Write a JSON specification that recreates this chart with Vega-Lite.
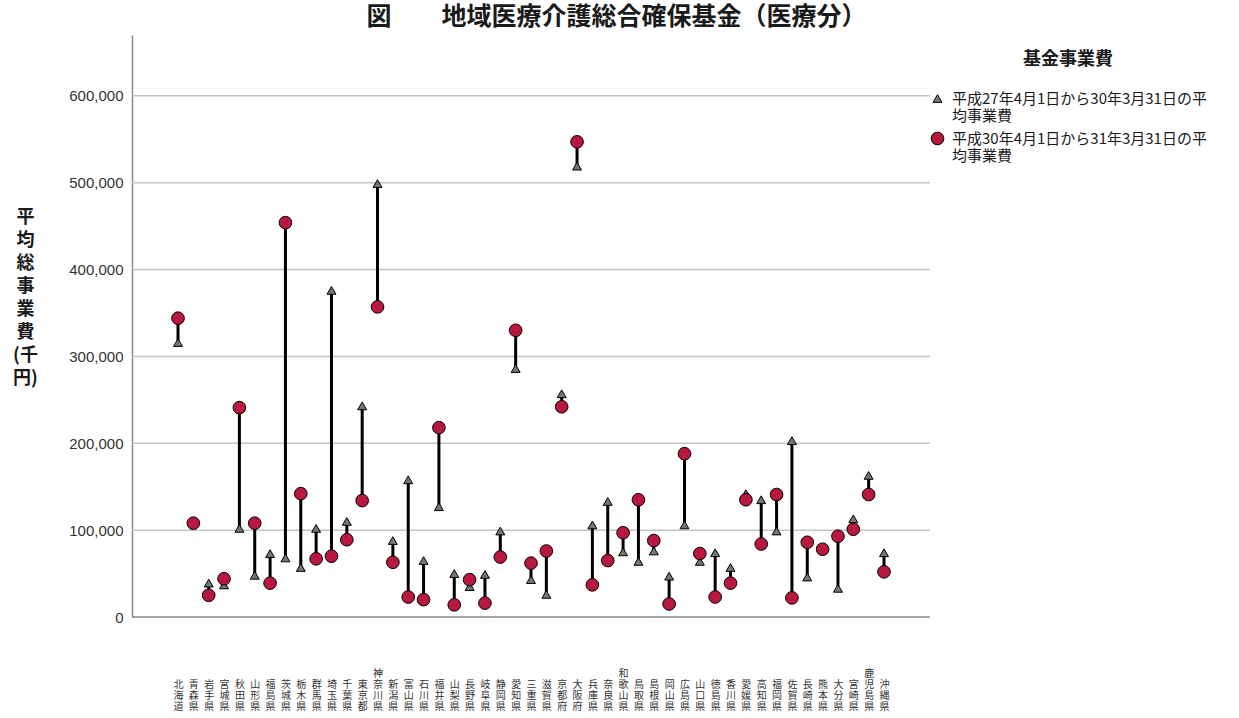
{
  "$schema": "https://vega.github.io/schema/vega-lite/v6.json",
  "autosize": "none",
  "width": 798,
  "height": 582,
  "padding": {"left": 132, "top": 35, "right": 309, "bottom": 101},
  "background": "white",
  "title": {
    "text": "図　　地域医療介護総合確保基金（医療分）",
    "anchor": "start",
    "dx": 354,
    "offset": 5,
    "font": "Noto Sans CJK JP",
    "fontSize": 25,
    "fontWeight": "bold",
    "color": "#1a1a1a"
  },
  "datasets": {
    "grid": [
      {"g": 0}, {"g": 100000}, {"g": 200000}, {"g": 300000}, {"g": 400000}, {"g": 500000}, {"g": 600000}
    ],
    "fund": [
      {"pref": "北海道", "h27": 316000, "h30": 344000},
      {"pref": "青森県", "h27": 108000, "h30": 108000},
      {"pref": "岩手県", "h27": 39000, "h30": 25000},
      {"pref": "宮城県", "h27": 37000, "h30": 44000},
      {"pref": "秋田県", "h27": 102000, "h30": 241000},
      {"pref": "山形県", "h27": 48000, "h30": 108000},
      {"pref": "福島県", "h27": 73000, "h30": 39000},
      {"pref": "茨城県", "h27": 68000, "h30": 454000},
      {"pref": "栃木県", "h27": 57000, "h30": 142000},
      {"pref": "群馬県", "h27": 102000, "h30": 67000},
      {"pref": "埼玉県", "h27": 376000, "h30": 70000},
      {"pref": "千葉県", "h27": 110000, "h30": 89000},
      {"pref": "東京都", "h27": 243000, "h30": 134000},
      {"pref": "神奈川県", "h27": 499000, "h30": 357000},
      {"pref": "新潟県", "h27": 88000, "h30": 63000},
      {"pref": "富山県", "h27": 158000, "h30": 23000},
      {"pref": "石川県", "h27": 65000, "h30": 20000},
      {"pref": "福井県", "h27": 127000, "h30": 218000},
      {"pref": "山梨県", "h27": 50000, "h30": 14000},
      {"pref": "長野県", "h27": 35000, "h30": 43000},
      {"pref": "岐阜県", "h27": 49000, "h30": 16000},
      {"pref": "静岡県", "h27": 99000, "h30": 69000},
      {"pref": "愛知県", "h27": 286000, "h30": 330000},
      {"pref": "三重県", "h27": 43000, "h30": 62000},
      {"pref": "滋賀県", "h27": 26000, "h30": 76000},
      {"pref": "京都府", "h27": 257000, "h30": 242000},
      {"pref": "大阪府", "h27": 519000, "h30": 547000},
      {"pref": "兵庫県", "h27": 106000, "h30": 37000},
      {"pref": "奈良県", "h27": 133000, "h30": 65000},
      {"pref": "和歌山県", "h27": 75000, "h30": 97000},
      {"pref": "鳥取県", "h27": 64000, "h30": 135000},
      {"pref": "島根県", "h27": 76000, "h30": 88000},
      {"pref": "岡山県", "h27": 47000, "h30": 15000},
      {"pref": "広島県", "h27": 106000, "h30": 188000},
      {"pref": "山口県", "h27": 64000, "h30": 73000},
      {"pref": "徳島県", "h27": 74000, "h30": 23000},
      {"pref": "香川県", "h27": 57000, "h30": 39000},
      {"pref": "愛媛県", "h27": 142000, "h30": 135000},
      {"pref": "高知県", "h27": 135000, "h30": 84000},
      {"pref": "福岡県", "h27": 99000, "h30": 141000},
      {"pref": "佐賀県", "h27": 203000, "h30": 22000},
      {"pref": "長崎県", "h27": 46000, "h30": 86000},
      {"pref": "熊本県", "h27": 78000, "h30": 78000},
      {"pref": "大分県", "h27": 33000, "h30": 93000},
      {"pref": "宮崎県", "h27": 113000, "h30": 101000},
      {"pref": "鹿児島県", "h27": 163000, "h30": 141000},
      {"pref": "沖縄県", "h27": 74000, "h30": 52000}
    ]
  },
  "layer": [
    {
      "data": {"name": "grid"},
      "mark": {"type": "rule"},
      "encoding": {
        "y": {
          "field": "g",
          "type": "quantitative",
          "scale": {"domain": [0, 670000], "nice": false},
          "axis": {
            "values": [0, 100000, 200000, 300000, 400000, 500000, 600000],
            "labelExpr": "format(datum.value, ',.0f')",
            "ticks": false,
            "grid": false,
            "labelPadding": 9,
            "labelFont": "Liberation Sans",
            "labelFontSize": 15,
            "labelColor": "#333333",
            "domainColor": "#8a8a8a",
            "domainWidth": 1.5,
            "title": ["平", "均", "総", "事", "業", "費", "(千", "円)"],
            "titleAngle": 0,
            "titleAlign": "center",
            "titleBaseline": "middle",
            "titleX": -107,
            "titleY": 182,
            "titleFont": "Noto Sans CJK JP",
            "titleFontSize": 18,
            "titleFontWeight": "bold",
            "titleLineHeight": 23,
            "titleColor": "#1a1a1a"
          }
        },
        "color": {
          "condition": {"test": "datum.g == 0", "value": "#8a8a8a"},
          "value": "#c4c4c4"
        },
        "strokeWidth": {"value": 1.5}
      }
    },
    {
      "data": {"name": "fund"},
      "mark": {"type": "rule", "color": "black", "strokeWidth": 3},
      "encoding": {
        "x": {
          "field": "pref",
          "type": "nominal",
          "sort": null,
          "scale": {"type": "point", "padding": 0, "range": [46, 752]},
          "axis": {
            "title": null,
            "ticks": false,
            "grid": false,
            "domain": false,
            "labelAngle": 0,
            "labelExpr": "length(datum.label) == 3 ? split('　' + datum.label, '') : split(datum.label, '')",
            "labelBaseline": "top",
            "labelAlign": "center",
            "labelPadding": 51,
            "labelFont": "Noto Sans CJK JP",
            "labelFontSize": 10,
            "labelLineHeight": 11,
            "labelColor": "#333333",
            "labelOverlap": false
          }
        },
        "y": {"field": "h27", "type": "quantitative"},
        "y2": {"field": "h30"}
      }
    },
    {
      "data": {"name": "fund"},
      "transform": [{"fold": ["h27", "h30"], "as": ["series", "value"]}],
      "mark": {"type": "point", "filled": true, "stroke": "black", "strokeWidth": 1, "opacity": 1},
      "encoding": {
        "x": {"field": "pref", "type": "nominal", "sort": null},
        "y": {"field": "value", "type": "quantitative"},
        "shape": {
          "field": "series",
          "type": "nominal",
          "scale": {"domain": ["h27", "h30"], "range": ["triangle-up", "circle"]},
          "legend": null
        },
        "size": {
          "field": "series",
          "type": "nominal",
          "scale": {"domain": ["h27", "h30"], "range": [80, 160]},
          "legend": null
        },
        "color": {
          "field": "series",
          "type": "nominal",
          "scale": {"domain": ["h27", "h30"], "range": ["#6f7b6f", "#b8183e"]},
          "legend": {
            "orient": "none",
            "legendX": 798,
            "legendY": 16,
            "padding": 0,
            "title": "基金事業費",
            "titleFont": "Noto Sans CJK JP",
            "titleFontSize": 18,
            "titleFontWeight": "bold",
            "titleColor": "#1a1a1a",
            "titleAnchor": "middle",
            "titlePadding": 22,
            "symbolStrokeColor": "black",
            "symbolStrokeWidth": 1,
            "symbolSize": 110,
            "labelOffset": 7,
            "labelFont": "Noto Sans CJK JP",
            "labelFontSize": 15,
            "labelLineHeight": 13.5,
            "labelColor": "#1a1a1a",
            "labelLimit": 400,
            "rowPadding": 6,
            "labelExpr": "datum.label == 'h27' ? ['平成27年4月1日から30年3月31日の平', '均事業費'] : ['平成30年4月1日から31年3月31日の平', '均事業費']"
          }
        }
      }
    }
  ],
  "config": {
    "view": {"stroke": null}
  }
}
